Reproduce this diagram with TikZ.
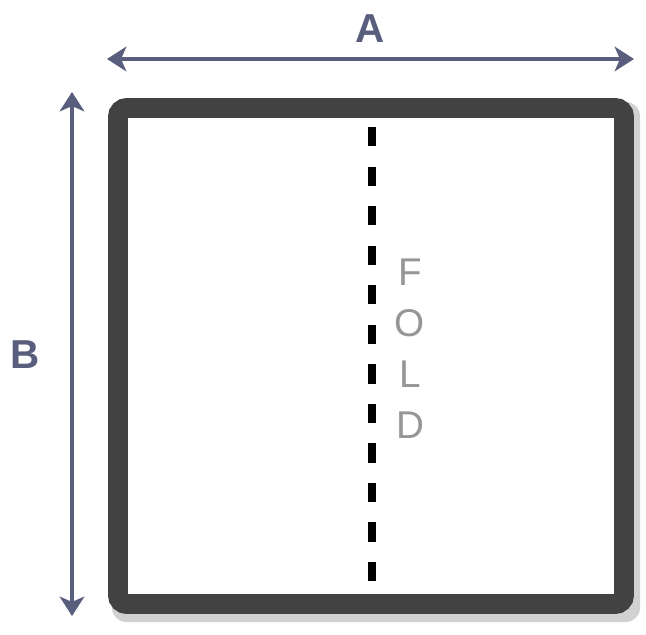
\documentclass[tikz,border=0pt]{standalone}
\usepackage{fontspec}
\setmainfont{Liberation Sans}
\definecolor{dimslate}{RGB}{88, 94, 124}
\definecolor{framegray}{RGB}{66, 66, 66}
\definecolor{foldgray}{RGB}{150, 150, 150}
\usetikzlibrary{arrows.meta, positioning, calc}

\begin{document}
\begin{tikzpicture}[x=0.02cm, y=-0.02cm]
  \useasboundingbox (0, 0) rectangle (646, 635);

  % Shadow and frame
  \fill[black, opacity=0.18, rounded corners=8pt] (112, 102) rectangle (640, 622);
  \draw[framegray, fill=white, line width=11.3pt, rounded corners=5pt] (118, 108) rectangle (624, 604);

  % Fold line
  \coordinate (foldtop) at (372, 127);
  \coordinate (foldbot) at (372, 584);
  \draw[black, line width=4.8pt, dash pattern=on 11pt off 11.5pt] (foldtop) -- (foldbot);
  \node[text=foldgray, font=\fontsize{22}{24}\selectfont, align=center] (fold) at (410, 349)
    {F\\[5pt]O\\[5pt]L\\[5pt]D};

  % Dimension arrows
  \coordinate (aleft) at (107, 59);
  \coordinate (aright) at (634, 59);
  \draw[dimslate, line width=2.3pt, {Stealth[length=11pt, width=14pt, inset=3pt]}-{Stealth[length=11pt, width=14pt, inset=3pt]}] (aleft) -- (aright);
  \node[text=dimslate, font=\fontsize{23}{24}\selectfont\bfseries] (lblA) at (370, 29) {A};

  \coordinate (btop) at (72, 92);
  \coordinate (bbot) at (72, 616);
  \draw[dimslate, line width=2.3pt, {Stealth[length=11pt, width=14pt, inset=3pt]}-{Stealth[length=11pt, width=14pt, inset=3pt]}] (btop) -- (bbot);
  \node[text=dimslate, font=\fontsize{23}{24}\selectfont\bfseries] (lblB) at (25, 355) {B};
\end{tikzpicture}
\end{document}
